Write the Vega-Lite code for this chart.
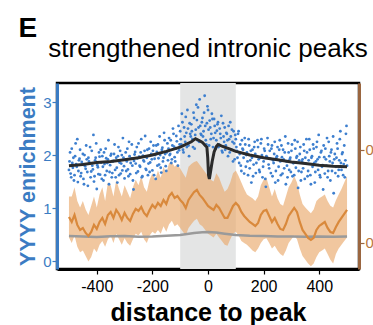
{
  "$schema": "https://vega.github.io/schema/vega-lite/v6.json",
  "autosize": "none",
  "padding": {"left": 57, "top": 83, "right": 316, "bottom": 242},
  "title": {"text": "E", "anchor": "start", "frame": "bounds", "dx": 2, "dy": 8, "fontSize": 28, "fontWeight": "bold", "font": "Liberation Sans", "color": "#000", "offset": 0},
  "datasets": {
    "band": [{"start": -100, "end": 100}],
    "pts": [
      {"x":-500,"y":1.72},{"x":-496,"y":2.05},{"x":-492,"y":1.58},{"x":-488,"y":1.85},{"x":-484,"y":1.95},{"x":-480,"y":1.62},{"x":-476,"y":2.22},{"x":-472,"y":1.78},{"x":-468,"y":1.49},{"x":-464,"y":1.90},
      {"x":-460,"y":2.10},{"x":-456,"y":1.66},{"x":-452,"y":1.83},{"x":-448,"y":1.55},{"x":-444,"y":2.00},{"x":-440,"y":1.74},{"x":-436,"y":1.92},{"x":-432,"y":1.42},{"x":-428,"y":1.88},{"x":-424,"y":2.15},
      {"x":-420,"y":1.69},{"x":-416,"y":1.80},{"x":-412,"y":2.38},{"x":-408,"y":1.60},{"x":-404,"y":1.95},{"x":-400,"y":1.36},{"x":-396,"y":1.77},{"x":-392,"y":2.05},{"x":-388,"y":1.63},{"x":-384,"y":1.86},
      {"x":-380,"y":1.98},{"x":-376,"y":1.52},{"x":-372,"y":1.83},{"x":-368,"y":2.12},{"x":-364,"y":1.70},{"x":-360,"y":1.92},{"x":-356,"y":1.45},{"x":-352,"y":1.81},{"x":-348,"y":2.02},{"x":-344,"y":1.66},
      {"x":-340,"y":1.89},{"x":-336,"y":2.20},{"x":-332,"y":1.58},{"x":-328,"y":1.76},{"x":-324,"y":1.98},{"x":-320,"y":1.62},{"x":-316,"y":2.08},{"x":-312,"y":1.84},{"x":-308,"y":1.71},{"x":-304,"y":1.95},
      {"x":-300,"y":1.56},{"x":-296,"y":2.05},{"x":-292,"y":1.88},{"x":-288,"y":1.73},{"x":-284,"y":2.25},{"x":-280,"y":1.64},{"x":-276,"y":1.93},{"x":-272,"y":1.80},{"x":-268,"y":1.35},{"x":-264,"y":2.01},
      {"x":-260,"y":1.84},{"x":-256,"y":2.15},{"x":-252,"y":1.69},{"x":-248,"y":1.97},{"x":-244,"y":1.78},{"x":-240,"y":2.30},{"x":-236,"y":1.60},{"x":-232,"y":1.90},{"x":-228,"y":2.08},{"x":-224,"y":1.74},
      {"x":-220,"y":1.95},{"x":-216,"y":1.62},{"x":-212,"y":2.12},{"x":-208,"y":1.86},{"x":-204,"y":2.02},{"x":-200,"y":1.71},{"x":-196,"y":2.18},{"x":-192,"y":1.93},{"x":-188,"y":1.55},{"x":-184,"y":2.06},
      {"x":-180,"y":2.20},{"x":-176,"y":1.82},{"x":-172,"y":2.00},{"x":-168,"y":1.67},{"x":-164,"y":2.14},{"x":-160,"y":1.95},{"x":-156,"y":2.28},{"x":-152,"y":1.79},{"x":-148,"y":2.05},{"x":-144,"y":1.90},
      {"x":-140,"y":2.32},{"x":-136,"y":2.02},{"x":-132,"y":1.85},{"x":-128,"y":2.18},{"x":-124,"y":2.40},{"x":-120,"y":1.96},{"x":-116,"y":2.12},{"x":-112,"y":2.26},{"x":-108,"y":1.80},{"x":-104,"y":2.09},
      {"x":-100,"y":2.45},{"x":-96,"y":2.20},{"x":-92,"y":2.62},{"x":-88,"y":2.05},{"x":-84,"y":2.35},{"x":-80,"y":2.72},{"x":-76,"y":2.15},{"x":-72,"y":2.50},{"x":-68,"y":1.98},{"x":-64,"y":2.40},
      {"x":-60,"y":2.58},{"x":-56,"y":2.30},{"x":-52,"y":2.80},{"x":-48,"y":2.12},{"x":-44,"y":2.48},{"x":-40,"y":2.66},{"x":-36,"y":2.90},{"x":-32,"y":2.25},{"x":-28,"y":2.55},{"x":-24,"y":2.38},
      {"x":-20,"y":2.70},{"x":-16,"y":2.45},{"x":-12,"y":3.12},{"x":-8,"y":2.28},{"x":-4,"y":2.60},{"x":0,"y":2.85},{"x":4,"y":2.18},{"x":8,"y":2.52},{"x":12,"y":2.40},{"x":16,"y":2.68},
      {"x":20,"y":2.32},{"x":24,"y":2.55},{"x":28,"y":2.12},{"x":32,"y":2.46},{"x":36,"y":2.62},{"x":40,"y":2.20},{"x":44,"y":2.40},{"x":48,"y":2.74},{"x":52,"y":2.05},{"x":56,"y":2.35},
      {"x":60,"y":2.52},{"x":64,"y":2.18},{"x":68,"y":2.40},{"x":72,"y":1.98},{"x":76,"y":2.30},{"x":80,"y":2.62},{"x":84,"y":2.10},{"x":88,"y":2.25},{"x":92,"y":2.45},{"x":96,"y":1.92},
      {"x":100,"y":2.30},{"x":104,"y":2.08},{"x":108,"y":2.40},{"x":112,"y":1.85},{"x":116,"y":2.20},{"x":120,"y":1.70},{"x":124,"y":2.12},{"x":128,"y":1.95},{"x":132,"y":2.32},{"x":136,"y":1.78},
      {"x":140,"y":2.05},{"x":144,"y":1.62},{"x":148,"y":2.18},{"x":152,"y":1.90},{"x":156,"y":1.48},{"x":160,"y":2.10},{"x":164,"y":1.82},{"x":168,"y":2.25},{"x":172,"y":1.66},{"x":176,"y":1.98},
      {"x":180,"y":2.15},{"x":184,"y":1.72},{"x":188,"y":1.95},{"x":192,"y":2.30},{"x":196,"y":1.58},{"x":200,"y":1.88},{"x":204,"y":2.08},{"x":208,"y":1.40},{"x":212,"y":1.96},{"x":216,"y":2.20},
      {"x":220,"y":1.75},{"x":224,"y":1.93},{"x":228,"y":2.12},{"x":232,"y":1.60},{"x":236,"y":1.85},{"x":240,"y":2.25},{"x":244,"y":1.70},{"x":248,"y":1.98},{"x":252,"y":1.52},{"x":256,"y":2.10},
      {"x":260,"y":1.88},{"x":264,"y":2.18},{"x":268,"y":1.65},{"x":272,"y":1.92},{"x":276,"y":2.05},{"x":280,"y":1.45},{"x":284,"y":1.80},{"x":288,"y":2.22},{"x":292,"y":1.72},{"x":296,"y":1.95},
      {"x":300,"y":2.08},{"x":304,"y":1.60},{"x":308,"y":1.85},{"x":312,"y":2.28},{"x":316,"y":1.76},{"x":320,"y":1.98},{"x":324,"y":1.38},{"x":328,"y":1.90},{"x":332,"y":2.15},{"x":336,"y":1.68},
      {"x":340,"y":1.92},{"x":344,"y":2.20},{"x":348,"y":1.55},{"x":352,"y":1.84},{"x":356,"y":2.05},{"x":360,"y":1.70},{"x":364,"y":2.30},{"x":368,"y":1.62},{"x":372,"y":1.95},{"x":376,"y":1.78},
      {"x":380,"y":2.12},{"x":384,"y":1.48},{"x":388,"y":1.88},{"x":392,"y":2.25},{"x":396,"y":1.72},{"x":400,"y":1.96},{"x":404,"y":1.58},{"x":408,"y":2.08},{"x":412,"y":1.81},{"x":416,"y":2.18},
      {"x":420,"y":1.65},{"x":424,"y":1.92},{"x":428,"y":2.32},{"x":432,"y":1.70},{"x":436,"y":1.98},{"x":440,"y":1.52},{"x":444,"y":2.10},{"x":448,"y":1.85},{"x":452,"y":1.28},{"x":456,"y":2.02},
      {"x":460,"y":1.78},{"x":464,"y":2.22},{"x":468,"y":1.60},{"x":472,"y":1.90},{"x":476,"y":2.45},{"x":480,"y":1.72},{"x":484,"y":2.05},{"x":488,"y":1.83},{"x":492,"y":1.58},{"x":496,"y":2.40},
      {"x":500,"y":1.80},
      {"x":-498,"y":1.88},{"x":-494,"y":1.65},{"x":-490,"y":2.12},{"x":-486,"y":1.76},{"x":-482,"y":1.52},{"x":-478,"y":1.98},{"x":-474,"y":1.83},{"x":-470,"y":2.30},{"x":-466,"y":1.70},{"x":-462,"y":1.93},
      {"x":-458,"y":1.60},{"x":-454,"y":1.87},{"x":-450,"y":2.02},{"x":-446,"y":1.45},{"x":-442,"y":1.79},{"x":-438,"y":2.18},{"x":-434,"y":1.68},{"x":-430,"y":1.95},{"x":-426,"y":1.84},{"x":-422,"y":1.58},
      {"x":-418,"y":2.08},{"x":-414,"y":1.73},{"x":-410,"y":1.50},{"x":-406,"y":1.90},{"x":-402,"y":2.22},{"x":-398,"y":1.81},{"x":-394,"y":1.64},{"x":-390,"y":1.97},{"x":-386,"y":2.10},{"x":-382,"y":1.55},
      {"x":-378,"y":1.78},{"x":-374,"y":2.05},{"x":-370,"y":1.62},{"x":-366,"y":1.94},{"x":-362,"y":1.85},{"x":-358,"y":2.28},{"x":-354,"y":1.68},{"x":-350,"y":1.99},{"x":-346,"y":1.58},{"x":-342,"y":1.88},
      {"x":-338,"y":2.02},{"x":-334,"y":1.72},{"x":-330,"y":1.95},{"x":-326,"y":1.48},{"x":-322,"y":2.15},{"x":-318,"y":1.86},{"x":-314,"y":1.65},{"x":-310,"y":2.00},{"x":-306,"y":2.32},{"x":-302,"y":1.79},
      {"x":-298,"y":1.92},{"x":-294,"y":1.70},{"x":-290,"y":2.12},{"x":-286,"y":1.60},{"x":-282,"y":1.98},{"x":-278,"y":1.85},{"x":-274,"y":2.20},{"x":-270,"y":1.52},{"x":-266,"y":1.89},{"x":-262,"y":2.06},
      {"x":-258,"y":1.66},{"x":-254,"y":1.94},{"x":-250,"y":2.22},{"x":-246,"y":1.80},{"x":-242,"y":2.05},{"x":-238,"y":1.58},{"x":-234,"y":1.99},{"x":-230,"y":1.88},{"x":-226,"y":2.36},{"x":-222,"y":1.72},
      {"x":-218,"y":2.10},{"x":-214,"y":1.84},{"x":-210,"y":1.68},{"x":-206,"y":2.25},{"x":-202,"y":1.92},{"x":-198,"y":2.08},{"x":-194,"y":1.62},{"x":-190,"y":2.00},{"x":-186,"y":2.18},{"x":-182,"y":1.80},
      {"x":-178,"y":1.94},{"x":-174,"y":2.35},{"x":-170,"y":1.76},{"x":-166,"y":2.10},{"x":-162,"y":1.88},{"x":-158,"y":2.42},{"x":-154,"y":2.02},{"x":-150,"y":1.70},{"x":-146,"y":2.22},{"x":-142,"y":2.12},
      {"x":-138,"y":2.00},{"x":-134,"y":2.28},{"x":-130,"y":1.92},{"x":-126,"y":2.50},{"x":-122,"y":2.16},{"x":-118,"y":1.88},{"x":-114,"y":2.36},{"x":-110,"y":2.05},{"x":-106,"y":2.55},{"x":-102,"y":2.20},
      {"x":-98,"y":2.30},{"x":-94,"y":2.78},{"x":-90,"y":2.10},{"x":-86,"y":2.52},{"x":-82,"y":2.25},{"x":-78,"y":2.42},{"x":-74,"y":2.85},{"x":-70,"y":2.18},{"x":-66,"y":2.60},{"x":-62,"y":2.35},
      {"x":-58,"y":2.45},{"x":-54,"y":2.15},{"x":-50,"y":2.70},{"x":-46,"y":2.38},{"x":-42,"y":2.95},{"x":-38,"y":2.28},{"x":-34,"y":2.52},{"x":-30,"y":3.05},{"x":-26,"y":2.40},{"x":-22,"y":2.62},
      {"x":-18,"y":2.35},{"x":-14,"y":2.80},{"x":-10,"y":2.55},{"x":-6,"y":2.20},{"x":-2,"y":2.92},{"x":2,"y":2.48},{"x":6,"y":2.65},{"x":10,"y":2.30},{"x":14,"y":2.78},{"x":18,"y":2.15},
      {"x":22,"y":2.68},{"x":26,"y":2.42},{"x":30,"y":2.28},{"x":34,"y":2.58},{"x":38,"y":2.15},{"x":42,"y":2.50},{"x":46,"y":2.32},{"x":50,"y":2.08},{"x":54,"y":2.60},{"x":58,"y":2.25},
      {"x":62,"y":2.10},{"x":66,"y":2.42},{"x":70,"y":2.28},{"x":74,"y":2.55},{"x":78,"y":2.05},{"x":82,"y":2.35},{"x":86,"y":2.48},{"x":90,"y":1.88},{"x":94,"y":2.22},{"x":98,"y":2.38},
      {"x":102,"y":2.15},{"x":106,"y":1.95},{"x":110,"y":2.45},{"x":114,"y":2.02},{"x":118,"y":1.80},{"x":122,"y":2.28},{"x":126,"y":2.10},{"x":130,"y":1.65},{"x":134,"y":2.20},{"x":138,"y":2.00},
      {"x":142,"y":1.88},{"x":146,"y":2.30},{"x":150,"y":1.75},{"x":154,"y":2.08},{"x":158,"y":1.95},{"x":162,"y":1.60},{"x":166,"y":2.15},{"x":170,"y":2.02},{"x":174,"y":1.85},{"x":178,"y":2.28},
      {"x":182,"y":1.92},{"x":186,"y":1.68},{"x":190,"y":2.22},{"x":194,"y":2.00},{"x":198,"y":1.78},{"x":202,"y":2.12},{"x":206,"y":1.55},{"x":210,"y":1.98},{"x":214,"y":2.32},{"x":218,"y":1.82},
      {"x":222,"y":2.08},{"x":226,"y":1.66},{"x":230,"y":2.18},{"x":234,"y":1.90},{"x":238,"y":2.02},{"x":242,"y":1.48},{"x":246,"y":1.95},{"x":250,"y":2.15},{"x":254,"y":1.78},{"x":258,"y":2.28},
      {"x":262,"y":1.62},{"x":266,"y":1.96},{"x":270,"y":2.10},{"x":274,"y":1.75},{"x":278,"y":2.35},{"x":282,"y":1.88},{"x":286,"y":1.58},{"x":290,"y":2.05},{"x":294,"y":1.92},{"x":298,"y":1.68},
      {"x":302,"y":2.20},{"x":306,"y":1.85},{"x":310,"y":1.62},{"x":314,"y":2.12},{"x":318,"y":1.95},{"x":322,"y":2.25},{"x":326,"y":1.70},{"x":330,"y":2.02},{"x":334,"y":1.52},{"x":338,"y":1.88},
      {"x":342,"y":1.75},{"x":346,"y":2.08},{"x":350,"y":1.95},{"x":354,"y":2.30},{"x":358,"y":1.60},{"x":362,"y":1.90},{"x":366,"y":2.10},{"x":370,"y":1.45},{"x":374,"y":1.98},{"x":378,"y":2.20},
      {"x":382,"y":1.85},{"x":386,"y":1.68},{"x":390,"y":2.15},{"x":394,"y":1.92},{"x":398,"y":2.38},{"x":402,"y":1.62},{"x":406,"y":2.05},{"x":410,"y":1.78},{"x":414,"y":1.35},{"x":418,"y":1.96},
      {"x":422,"y":2.12},{"x":426,"y":1.80},{"x":430,"y":1.58},{"x":434,"y":2.25},{"x":438,"y":1.88},{"x":442,"y":2.05},{"x":446,"y":1.70},{"x":450,"y":2.35},{"x":454,"y":1.92},{"x":458,"y":1.66},
      {"x":462,"y":1.95},{"x":466,"y":2.12},{"x":470,"y":1.72},{"x":474,"y":2.30},{"x":478,"y":1.85},{"x":482,"y":2.02},{"x":486,"y":1.62},{"x":490,"y":2.18},{"x":494,"y":1.90},{"x":498,"y":2.55}
    ],
    "black": [
      {"x":-500,"y":1.80},{"x":-450,"y":1.82},{"x":-400,"y":1.86},{"x":-350,"y":1.88},{"x":-300,"y":1.91},{"x":-250,"y":1.95},{"x":-200,"y":2.00},{"x":-150,"y":2.07},{"x":-100,"y":2.15},{"x":-60,"y":2.25},{"x":-45,"y":2.31},{"x":-30,"y":2.27},{"x":-20,"y":2.24},{"x":-10,"y":2.18},{"x":-4,"y":2.15},{"x":-1,"y":1.95},{"x":2,"y":1.62},{"x":5,"y":1.55},{"x":9,"y":1.68},{"x":15,"y":1.88},{"x":22,"y":2.06},{"x":30,"y":2.16},{"x":36,"y":2.20},{"x":50,"y":2.17},{"x":75,"y":2.12},{"x":100,"y":2.07},{"x":150,"y":2.00},{"x":200,"y":1.95},{"x":250,"y":1.91},{"x":300,"y":1.87},{"x":350,"y":1.84},{"x":400,"y":1.81},{"x":450,"y":1.79},{"x":500,"y":1.78}
    ],
    "gray": [
      {"x":-500,"y":0.1075},{"x":-450,"y":0.1070},{"x":-400,"y":0.1065},{"x":-350,"y":0.1072},{"x":-300,"y":0.1075},{"x":-250,"y":0.1068},{"x":-200,"y":0.1070},{"x":-150,"y":0.1078},{"x":-100,"y":0.1086},{"x":-50,"y":0.1108},{"x":-20,"y":0.1115},{"x":0,"y":0.1118},{"x":30,"y":0.1112},{"x":60,"y":0.1100},{"x":100,"y":0.1086},{"x":150,"y":0.1078},{"x":200,"y":0.1075},{"x":250,"y":0.1070},{"x":300,"y":0.1070},{"x":350,"y":0.1068},{"x":400,"y":0.1070},{"x":450,"y":0.1068},{"x":500,"y":0.1070}
    ],
    "orange": [
      {"x":-500,"m":0.128,"lo":0.106,"hi":0.150},{"x":-490,"m":0.1226,"lo":0.100,"hi":0.150},{"x":-480,"m":0.1301,"lo":0.108,"hi":0.160},{"x":-470,"m":0.1194,"lo":0.096,"hi":0.145},{"x":-460,"m":0.114,"lo":0.090,"hi":0.138},
      {"x":-450,"m":0.1161,"lo":0.092,"hi":0.145},{"x":-440,"m":0.1108,"lo":0.086,"hi":0.136},{"x":-430,"m":0.1075,"lo":0.080,"hi":0.130},{"x":-420,"m":0.1118,"lo":0.085,"hi":0.140},{"x":-410,"m":0.1194,"lo":0.094,"hi":0.150},
      {"x":-400,"m":0.1151,"lo":0.090,"hi":0.138},{"x":-390,"m":0.1226,"lo":0.098,"hi":0.152},{"x":-380,"m":0.1269,"lo":0.102,"hi":0.160},{"x":-370,"m":0.1204,"lo":0.096,"hi":0.145},{"x":-360,"m":0.1301,"lo":0.104,"hi":0.165},
      {"x":-350,"m":0.1333,"lo":0.108,"hi":0.162},{"x":-340,"m":0.1269,"lo":0.100,"hi":0.150},{"x":-330,"m":0.1355,"lo":0.110,"hi":0.168},{"x":-320,"m":0.1312,"lo":0.104,"hi":0.158},{"x":-310,"m":0.1247,"lo":0.098,"hi":0.150},
      {"x":-300,"m":0.1323,"lo":0.105,"hi":0.162},{"x":-290,"m":0.1269,"lo":0.100,"hi":0.155},{"x":-280,"m":0.1237,"lo":0.097,"hi":0.148},{"x":-270,"m":0.1312,"lo":0.104,"hi":0.160},{"x":-260,"m":0.1366,"lo":0.110,"hi":0.168},
      {"x":-250,"m":0.1344,"lo":0.108,"hi":0.162},{"x":-240,"m":0.1387,"lo":0.112,"hi":0.172},{"x":-230,"m":0.1323,"lo":0.104,"hi":0.160},{"x":-220,"m":0.129,"lo":0.100,"hi":0.155},{"x":-210,"m":0.1355,"lo":0.108,"hi":0.168},
      {"x":-200,"m":0.1409,"lo":0.112,"hi":0.175},{"x":-190,"m":0.1376,"lo":0.110,"hi":0.168},{"x":-180,"m":0.143,"lo":0.114,"hi":0.178},{"x":-170,"m":0.1398,"lo":0.110,"hi":0.170},{"x":-160,"m":0.1462,"lo":0.118,"hi":0.182},
      {"x":-150,"m":0.1419,"lo":0.112,"hi":0.175},{"x":-140,"m":0.1505,"lo":0.120,"hi":0.186},{"x":-130,"m":0.1538,"lo":0.124,"hi":0.187},{"x":-120,"m":0.1484,"lo":0.118,"hi":0.182},{"x":-110,"m":0.1505,"lo":0.120,"hi":0.185},
      {"x":-100,"m":0.1462,"lo":0.116,"hi":0.180},{"x":-90,"m":0.143,"lo":0.112,"hi":0.175},{"x":-80,"m":0.1376,"lo":0.108,"hi":0.170},{"x":-70,"m":0.1462,"lo":0.116,"hi":0.182},{"x":-60,"m":0.1505,"lo":0.120,"hi":0.185},
      {"x":-50,"m":0.1548,"lo":0.124,"hi":0.187},{"x":-40,"m":0.157,"lo":0.126,"hi":0.188},{"x":-30,"m":0.1516,"lo":0.120,"hi":0.184},{"x":-20,"m":0.1484,"lo":0.118,"hi":0.180},{"x":-10,"m":0.1441,"lo":0.114,"hi":0.176},
      {"x":0,"m":0.1398,"lo":0.110,"hi":0.172},{"x":10,"m":0.1376,"lo":0.108,"hi":0.168},{"x":20,"m":0.1355,"lo":0.106,"hi":0.166},{"x":30,"m":0.1409,"lo":0.110,"hi":0.175},{"x":40,"m":0.1376,"lo":0.106,"hi":0.170},
      {"x":50,"m":0.1323,"lo":0.102,"hi":0.162},{"x":60,"m":0.1269,"lo":0.098,"hi":0.155},{"x":70,"m":0.1269,"lo":0.097,"hi":0.158},{"x":80,"m":0.1333,"lo":0.104,"hi":0.165},{"x":90,"m":0.1398,"lo":0.110,"hi":0.175},
      {"x":100,"m":0.143,"lo":0.112,"hi":0.178},{"x":110,"m":0.1398,"lo":0.108,"hi":0.172},{"x":120,"m":0.1333,"lo":0.102,"hi":0.165},{"x":130,"m":0.129,"lo":0.100,"hi":0.158},{"x":140,"m":0.1258,"lo":0.098,"hi":0.152},
      {"x":150,"m":0.1226,"lo":0.095,"hi":0.150},{"x":160,"m":0.1204,"lo":0.092,"hi":0.148},{"x":170,"m":0.1183,"lo":0.090,"hi":0.145},{"x":180,"m":0.1215,"lo":0.094,"hi":0.150},{"x":190,"m":0.1301,"lo":0.100,"hi":0.162},
      {"x":200,"m":0.1344,"lo":0.104,"hi":0.168},{"x":210,"m":0.1355,"lo":0.105,"hi":0.170},{"x":220,"m":0.129,"lo":0.100,"hi":0.160},{"x":230,"m":0.1226,"lo":0.094,"hi":0.150},{"x":240,"m":0.1269,"lo":0.097,"hi":0.158},
      {"x":250,"m":0.1204,"lo":0.092,"hi":0.148},{"x":260,"m":0.1151,"lo":0.088,"hi":0.142},{"x":270,"m":0.114,"lo":0.086,"hi":0.140},{"x":280,"m":0.1204,"lo":0.092,"hi":0.150},{"x":290,"m":0.129,"lo":0.100,"hi":0.160},
      {"x":300,"m":0.1333,"lo":0.104,"hi":0.165},{"x":310,"m":0.1376,"lo":0.108,"hi":0.172},{"x":320,"m":0.1333,"lo":0.104,"hi":0.165},{"x":330,"m":0.1226,"lo":0.094,"hi":0.152},{"x":340,"m":0.114,"lo":0.086,"hi":0.142},
      {"x":350,"m":0.1097,"lo":0.082,"hi":0.138},{"x":360,"m":0.1054,"lo":0.078,"hi":0.135},{"x":370,"m":0.1032,"lo":0.075,"hi":0.132},{"x":380,"m":0.1054,"lo":0.078,"hi":0.136},{"x":390,"m":0.114,"lo":0.085,"hi":0.145},
      {"x":400,"m":0.1183,"lo":0.090,"hi":0.148},{"x":410,"m":0.1204,"lo":0.092,"hi":0.150},{"x":420,"m":0.1226,"lo":0.094,"hi":0.152},{"x":430,"m":0.1161,"lo":0.088,"hi":0.145},{"x":440,"m":0.1118,"lo":0.082,"hi":0.140},
      {"x":450,"m":0.1108,"lo":0.078,"hi":0.138},{"x":460,"m":0.1172,"lo":0.088,"hi":0.146},{"x":470,"m":0.1226,"lo":0.094,"hi":0.152},{"x":480,"m":0.1269,"lo":0.098,"hi":0.158},{"x":490,"m":0.1312,"lo":0.102,"hi":0.165},
      {"x":500,"m":0.1355,"lo":0.106,"hi":0.172}
    ]
  },
  "vconcat": [
    {
      "width": 302,
      "height": 186,
      "title": {"text": "strengthened intronic peaks", "anchor": "middle", "fontSize": 26, "fontWeight": "normal", "font": "Liberation Sans", "color": "#000", "baseline": "alphabetic", "offset": 0},
      "layer": [
        {
          "data": {"name": "band"},
          "mark": {"type": "rect", "color": "#e4e5e5"},
          "encoding": {
            "x": {"field": "start", "type": "quantitative", "scale": {"domain": [-543, 543], "nice": false, "zero": false},
                  "axis": {"orient": "bottom", "values": [-400, -200, 0, 200, 400], "labelExpr": "(datum.value < 0 ? '-' : '') + abs(datum.value)", "title": "distance to peak", "titleFontSize": 25, "titleFontWeight": "bold", "titleColor": "#000", "titlePadding": 6, "labelFontSize": 16, "labelColor": "#000", "labelPadding": 4, "domainColor": "#000", "domainWidth": 3, "tickColor": "#000", "tickSize": 5, "tickWidth": 1.2, "grid": false}},
            "x2": {"field": "end"}
          }
        },
        {
          "layer": [
            {
              "data": {"name": "orange"},
              "mark": {"type": "area", "color": "#eaa96c", "opacity": 0.65},
              "encoding": {
                "x": {"field": "x", "type": "quantitative", "scale": {"domain": [-543, 543], "nice": false, "zero": false}},
                "y": {"field": "lo", "type": "quantitative", "scale": {"domain": [0.072, 0.272], "nice": false, "zero": false},
                      "axis": {"orient": "right", "title": null, "values": [0.1, 0.2], "format": ".1f", "labelColor": "#b8773d", "labelFontSize": 15, "labelPadding": 1, "domainColor": "#9a6640", "domainWidth": 3, "tickColor": "#9a6640", "tickSize": 5, "tickWidth": 1.2, "grid": false}},
                "y2": {"field": "hi"}
              }
            },
            {
              "data": {"name": "gray"},
              "mark": {"type": "line", "color": "#9a9a9a", "strokeWidth": 2.5, "interpolate": "linear"},
              "encoding": {
                "x": {"field": "x", "type": "quantitative"},
                "y": {"field": "y", "type": "quantitative"}
              }
            },
            {
              "data": {"name": "orange"},
              "mark": {"type": "line", "color": "#d9893c", "strokeWidth": 2.2},
              "encoding": {
                "x": {"field": "x", "type": "quantitative"},
                "y": {"field": "m", "type": "quantitative"}
              }
            }
          ]
        },
        {
          "layer": [
            {
              "data": {"name": "pts"},
              "mark": {"type": "circle", "color": "#3d7fcf", "size": 8, "opacity": 1},
              "encoding": {
                "x": {"field": "x", "type": "quantitative", "scale": {"domain": [-543, 543], "nice": false, "zero": false}},
                "y": {"field": "y", "type": "quantitative", "scale": {"domain": [-0.15, 3.36], "nice": false, "zero": false},
                      "axis": {"orient": "left", "title": "YYYY enrichment", "titleColor": "#3b7cc3", "titleFontSize": 21.5, "titleFontWeight": "bold", "titlePadding": 3, "labelColor": "#3b7cc3", "labelFontSize": 15, "labelPadding": 1, "values": [0, 1, 2, 3], "format": "d", "domainColor": "#3b7cc3", "domainWidth": 3, "tickColor": "#3b7cc3", "tickSize": 5, "tickWidth": 1.2, "grid": false}}
              }
            },
            {
              "data": {"name": "black"},
              "mark": {"type": "line", "color": "#2b2b2b", "strokeWidth": 3},
              "encoding": {
                "x": {"field": "x", "type": "quantitative"},
                "y": {"field": "y", "type": "quantitative"}
              }
            }
          ]
        }
      ],
      "resolve": {"scale": {"y": "independent"}, "axis": {"y": "independent"}}
    }
  ],
  "config": {
    "font": "Liberation Sans",
    "view": {"stroke": "#000", "strokeWidth": 2.5},
    "axis": {"grid": false}
  }
}
